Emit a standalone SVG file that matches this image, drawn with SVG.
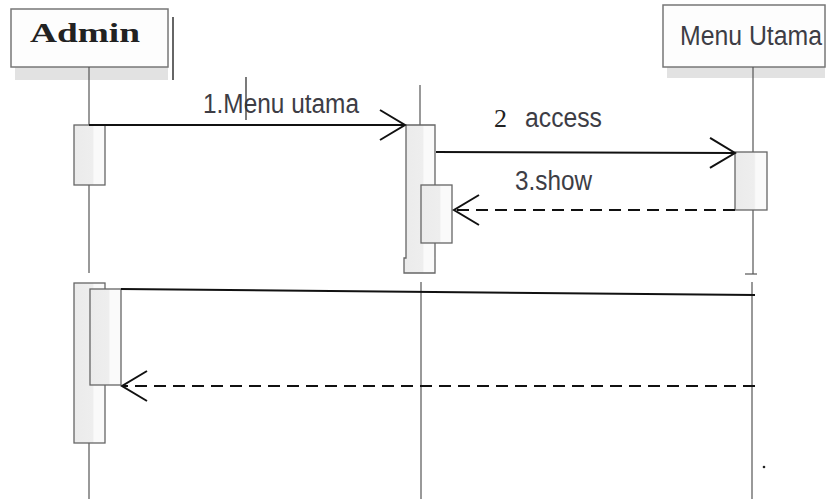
<svg xmlns="http://www.w3.org/2000/svg" width="835" height="499" viewBox="0 0 835 499">
<defs>
<linearGradient id="act" x1="0" y1="0" x2="1" y2="0">
<stop offset="0" stop-color="#ebebeb"/>
<stop offset="0.6" stop-color="#eeeeee"/>
<stop offset="0.65" stop-color="#fafafa"/>
<stop offset="1" stop-color="#fafafa"/>
</linearGradient>
<marker id="open" viewBox="0 0 30 34" refX="27" refY="17" markerWidth="30" markerHeight="34" markerUnits="userSpaceOnUse" orient="auto">
<path d="M2,2 L27,17 L2,32" fill="none" stroke="#111" stroke-width="2"/>
</marker>
</defs>
<style>
.box{fill:#fdfdfd;stroke:#777;stroke-width:1.5}
.shadow{fill:#e2e2e2}
.life{stroke:#555;stroke-width:1.2;fill:none}
.act{fill:url(#act);stroke:#666;stroke-width:1.3}
.msg{stroke:#111;stroke-width:2;fill:none}
.ret{stroke:#111;stroke-width:2;fill:none;stroke-dasharray:12 7}
.lbl{font-family:"Liberation Sans",Arial,sans-serif;font-size:27px;fill:#3d3d45}
</style>
<rect width="835" height="499" fill="#fff"/>

<g id="admin">
<rect class="shadow" x="15" y="67" width="153" height="13"/>
<rect class="box" x="11" y="9" width="157" height="58"/>
<text x="30" y="42" font-family="'Liberation Serif','Times New Roman',serif" font-weight="bold" font-size="27" fill="#222" textLength="110" lengthAdjust="spacingAndGlyphs">Admin</text>
<line x1="173" y1="17" x2="173" y2="80" stroke="#333" stroke-width="1.5"/>
<line class="life" x1="89" y1="67" x2="89" y2="125"/>
<line class="life" x1="89" y1="185" x2="89" y2="273"/>
<line class="life" x1="89" y1="443" x2="89" y2="499"/>
<rect class="act" x="74" y="125" width="31" height="60"/>
<rect class="act" x="74" y="283" width="31" height="160"/>
<rect class="act" x="90" y="289" width="31" height="96"/>
</g>

<g id="menu-utama">
<rect class="shadow" x="667" y="67" width="158" height="11"/>
<rect class="box" x="663" y="5" width="162" height="62"/>
<text class="lbl" x="680" y="45" textLength="142" lengthAdjust="spacingAndGlyphs">Menu Utama</text>
<line class="life" x1="753" y1="67" x2="753" y2="152"/>
<line class="life" x1="753" y1="210" x2="753" y2="274"/>
<line class="life" x1="745" y1="274" x2="757" y2="274"/>
<line class="life" x1="752" y1="282" x2="752" y2="499"/>
<rect class="act" x="735" y="152" width="32" height="58"/>
</g>

<g id="middle">
<line class="life" x1="420" y1="85" x2="420" y2="125"/>
<line class="life" x1="421" y1="282" x2="421" y2="499"/>
<path class="act" d="M406,125 H435 V273 H404 V258 H406 Z"/>
<rect class="act" x="421" y="185" width="31" height="58"/>
</g>

<g id="connectors">
<line class="msg" x1="89" y1="125" x2="405" y2="125" marker-end="url(#open)"/>
<line class="msg" x1="436" y1="152" x2="735" y2="153" marker-end="url(#open)"/>
<line class="ret" x1="735" y1="210" x2="454" y2="210" marker-end="url(#open)"/>
<line class="msg" x1="121" y1="289" x2="755" y2="295"/>
<line class="ret" x1="755" y1="386" x2="122" y2="386" marker-end="url(#open)"/>
</g>

<g id="labels">
<text class="lbl" x="203" y="113" textLength="156" lengthAdjust="spacingAndGlyphs">1.Menu utama</text>
<line x1="246" y1="77" x2="246" y2="120" stroke="#333" stroke-width="1.3"/>
<text x="494" y="127" font-family="'Liberation Serif','Times New Roman',serif" font-size="26" fill="#222">2</text>
<text class="lbl" x="525" y="127" textLength="77" lengthAdjust="spacingAndGlyphs">access</text>
<text class="lbl" x="515" y="190" textLength="77" lengthAdjust="spacingAndGlyphs">3.show</text>
<circle cx="764" cy="467" r="1.3" fill="#222"/>
</g>
</svg>
